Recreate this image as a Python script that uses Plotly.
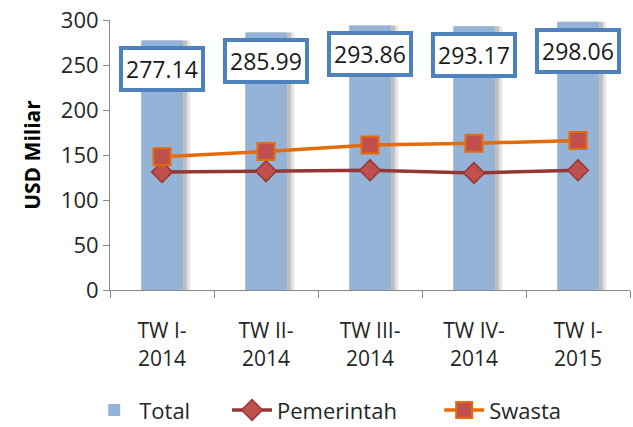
import plotly.graph_objects as go

categories = ["TW I-<br>2014", "TW II-<br>2014", "TW III-<br>2014", "TW IV-<br>2014", "TW I-<br>2015"]
total = [277.14, 285.99, 293.86, 293.17, 298.06]
pemerintah = [131, 132, 133, 130, 133]
swasta = [148, 154, 161, 163, 166]

FONT = "Open Sans, Liberation Sans, sans-serif"

fig = go.Figure()
# soft shadow behind bars
fig.add_trace(go.Bar(x=categories, y=total, width=0.46, offset=-0.19,
                     marker=dict(color="rgba(60,60,60,0.15)", line=dict(width=0)),
                     showlegend=False, hoverinfo="skip"))
fig.add_trace(go.Bar(x=categories, y=total, width=0.43, offset=-0.19,
                     marker=dict(color="rgba(60,60,60,0.2)", line=dict(width=0)),
                     showlegend=False, hoverinfo="skip"))
fig.add_trace(go.Bar(x=categories, y=total, name="Total", width=0.4, offset=-0.2,
                     marker=dict(color="#95B3D7", line=dict(width=0)), legend="legend"))
fig.add_trace(go.Scatter(x=categories, y=pemerintah, name="Pemerintah", mode="lines+markers",
                         line=dict(color="#953735", width=3.5), legend="legend2",
                         marker=dict(symbol="diamond", size=16, color="#C0504D",
                                     line=dict(color="#953735", width=1.5))))
fig.add_trace(go.Scatter(x=categories, y=swasta, name="Swasta", mode="lines+markers",
                         line=dict(color="#E46C0A", width=3.5), legend="legend3",
                         marker=dict(symbol="square", size=17, color="#C0504D",
                                     line=dict(color="#E46C0A", width=2))))

for c, v in zip(categories, total):
    fig.add_annotation(x=c, y=v - 32, text=f"{v:.2f}", showarrow=False, xref="x", yref="y",
                       font=dict(size=23, color="#1a1a1a", family=FONT),
                       bgcolor="white", bordercolor="#4F81BD", borderwidth=4, borderpad=3)

def leg(x):
    return dict(orientation="h", x=x, xanchor="left", y=-0.445, yanchor="middle",
                font=dict(size=22), itemwidth=40, bgcolor="rgba(0,0,0,0)")

fig.update_layout(
    width=633, height=427, barmode="overlay",
    paper_bgcolor="white", plot_bgcolor="white",
    margin=dict(l=110, r=3, t=20, b=137, autoexpand=False),
    font=dict(family=FONT, size=21, color="#262626"),
    legend=leg(-0.04), legend2=leg(0.225), legend3=leg(0.633),
    yaxis=dict(range=[0, 300], dtick=50, showgrid=False, showline=True, linecolor="#888888",
               linewidth=1, ticks="outside", ticklen=6, tickcolor="#888888",
               tickfont=dict(size=22), automargin=False,
               title=dict(text="<b>USD Miliar</b>", font=dict(size=21, color="black"), standoff=14)),
    xaxis=dict(showline=True, linecolor="#888888", linewidth=1, ticks="outside",
               tickson="boundaries", ticklen=7, tickcolor="#888888", tickfont=dict(size=21),
               ticklabelstandoff=22, automargin=False),
)

fig.write_html("out.html")
